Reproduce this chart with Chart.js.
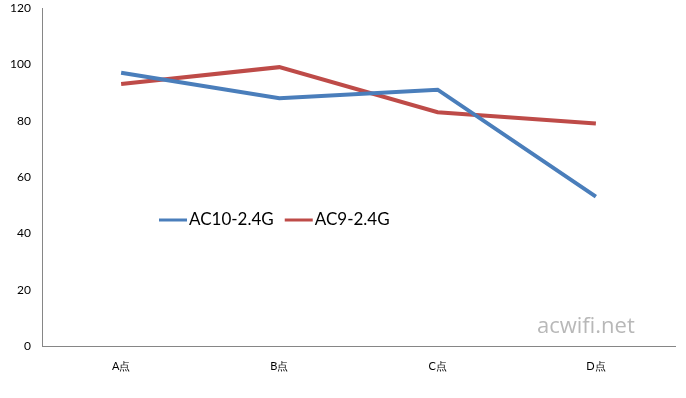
<!DOCTYPE html>
<html>
<head>
<meta charset="utf-8">
<script src="https://cdn.jsdelivr.net/npm/chart.js@4"></script>
<style>
  html, body { margin: 0; padding: 0; background: #fff; }
  #wrap { width: 686px; height: 398px; }
</style>
</head>
<body>
<div id="wrap"><canvas id="js-line-chart" width="686" height="398"></canvas></div>
<script>
const labels = ["A点", "B点", "C点", "D点"];
const ac10 = [97, 88, 91, 53];
const ac9 = [93, 99, 83, 79];
const seriesNames = ["AC10-2.4G", "AC9-2.4G"];
const seriesColors = ["#4a7ebb", "#be4b48"];

// legend drawn inside the plot, like the excel one
const innerLegend = {
  id: "innerLegend",
  afterDraw(chart) {
    const ctx = chart.ctx;
    let x = 159;
    const y = 220;
    ctx.save();
    ctx.font = "17px Lato, 'Open Sans', sans-serif";
    ctx.textBaseline = "middle";
    chart.data.datasets.forEach((ds) => {
      ctx.strokeStyle = ds.borderColor;
      ctx.lineWidth = 3;
      ctx.beginPath();
      ctx.moveTo(x, y);
      ctx.lineTo(x + 28, y);
      ctx.stroke();
      ctx.fillStyle = "#000";
      ctx.fillText(ds.label, x + 30, y);
      x += 30 + ctx.measureText(ds.label).width + 11;
    });
    // watermark
    ctx.font = "22px 'Open Sans', sans-serif";
    ctx.fillStyle = "#b8b8b8";
    ctx.textBaseline = "alphabetic";
    ctx.fillText("acwifi.net", 537, 333);
    ctx.restore();
  },
};

new Chart(document.getElementById("js-line-chart"), {
  type: "line",
  data: {
    labels: labels,
    datasets: [
      {
        label: seriesNames[0],
        data: ac10,
        borderColor: seriesColors[0],
        backgroundColor: seriesColors[0],
        borderWidth: 4,
        pointRadius: 0,
        tension: 0,
      },
      {
        label: seriesNames[1],
        data: ac9,
        borderColor: seriesColors[1],
        backgroundColor: seriesColors[1],
        borderWidth: 4,
        pointRadius: 0,
        tension: 0,
      },
    ],
  },
  options: {
    responsive: false,
    animation: false,
    layout: { padding: { top: 8, right: 11, left: 0, bottom: 0 } },
    plugins: {
      legend: { display: false },
      tooltip: { enabled: false },
    },
    scales: {
      x: {
        offset: true,
        grid: { display: false, drawTicks: false },
        border: { color: "#868686", width: 1 },
        ticks: {
          color: "#000",
          padding: 14,
          font: { size: 11, family: "Lato, 'Open Sans', sans-serif" },
        },
        afterFit(scale) {
          scale.height = 52;
        },
      },
      y: {
        min: 0,
        max: 120,
        // invisible tick marks give the label gap without extra top padding
        grid: {
          drawOnChartArea: false,
          drawTicks: true,
          tickLength: 11,
          tickColor: "rgba(0,0,0,0)",
        },
        border: { color: "#868686", width: 1 },
        ticks: {
          stepSize: 20,
          color: "#000",
          padding: 0,
          font: { size: 12, family: "Lato, 'Open Sans', sans-serif" },
        },
        afterFit(scale) {
          scale.width = 42;
        },
      },
    },
  },
  plugins: [innerLegend],
});
</script>
</body>
</html>
